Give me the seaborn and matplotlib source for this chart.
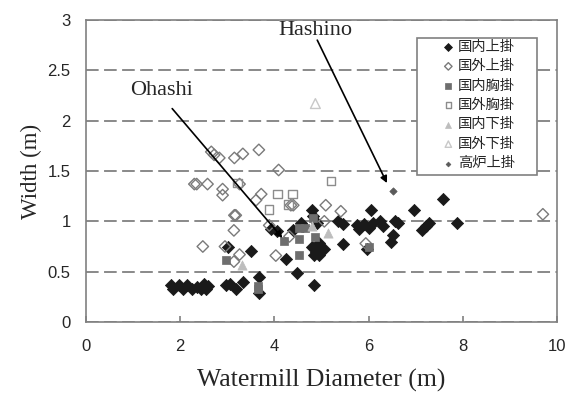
import matplotlib
matplotlib.use("Agg")
import matplotlib.pyplot as plt
from matplotlib.patches import Rectangle
import seaborn as sns
import pandas as pd

# ---- data ----
dom_over_x = [1.80, 1.85, 1.98, 2.05, 2.15, 2.25, 2.35, 2.45, 2.50, 2.55, 2.60,
              2.97, 3.05, 3.19, 3.33, 3.68, 3.68,
              3.01, 3.50, 3.93, 4.05, 4.25, 4.49, 4.85,
              4.39, 4.56, 4.60, 4.80, 4.83, 4.90,
              4.80, 4.88, 4.95, 5.00, 4.85, 4.95, 5.05, 4.90,
              5.34, 5.45, 5.45, 5.75, 5.80, 5.90, 6.00, 6.05, 6.10, 6.25, 6.30,
              6.55, 6.62, 6.47, 6.52, 5.97,
              6.96, 7.14, 7.22, 7.28, 7.57, 7.88]
dom_over_y = [0.37, 0.33, 0.37, 0.33, 0.37, 0.33, 0.35, 0.33, 0.38, 0.33, 0.36,
              0.37, 0.38, 0.33, 0.40, 0.45, 0.29,
              0.75, 0.71, 0.92, 0.90, 0.63, 0.49, 0.37,
              0.91, 0.98, 0.95, 1.11, 1.05, 0.98,
              0.75, 0.70, 0.78, 0.72, 0.67, 0.67, 0.73, 0.74,
              1.00, 0.97, 0.77, 0.96, 0.92, 0.97, 0.93, 1.11, 0.98, 1.00, 0.95,
              1.00, 0.98, 0.79, 0.86, 0.73,
              1.11, 0.91, 0.95, 0.98, 1.22, 0.98]

for_over_x = [2.30, 2.35, 2.58, 2.66, 2.72, 2.83, 2.90, 2.90, 3.15, 3.33, 3.26,
              3.67, 3.72, 3.61, 4.09, 3.15, 3.18, 3.14, 2.48, 3.26, 3.14, 4.03,
              3.89, 4.35, 4.40, 5.09, 5.41, 5.06, 5.94, 9.70, 4.32, 2.95]
for_over_y = [1.37, 1.37, 1.37, 1.69, 1.66, 1.63, 1.32, 1.26, 1.63, 1.67, 1.37,
              1.71, 1.27, 1.21, 1.51, 1.06, 1.06, 0.91, 0.75, 0.67, 0.60, 0.66,
              0.96, 1.16, 1.16, 1.16, 1.10, 1.00, 0.78, 1.07, 0.85, 0.75]

dom_breast_x = [2.97, 3.65, 3.65, 4.21, 4.53, 4.53, 4.65, 4.53, 4.82, 4.86, 6.00]
dom_breast_y = [0.62, 0.36, 0.33, 0.80, 0.82, 0.93, 0.93, 0.67, 1.03, 0.84, 0.75]

for_breast_x = [3.22, 3.89, 4.07, 4.39, 4.30, 5.20]
for_breast_y = [1.38, 1.12, 1.27, 1.27, 1.17, 1.40]

dom_under_x = [3.31, 4.79, 5.13]
dom_under_y = [0.57, 0.95, 0.88]

for_under_x = [4.87]
for_under_y = [2.17]

furnace_x = [6.51]
furnace_y = [1.30]

categories = ["国内上掛", "国外上掛", "国内胸掛", "国外胸掛", "国内下掛", "国外下掛", "高炉上掛"]
xs = [dom_over_x, for_over_x, dom_breast_x, for_breast_x, dom_under_x, for_under_x, furnace_x]
ys = [dom_over_y, for_over_y, dom_breast_y, for_breast_y, dom_under_y, for_under_y, furnace_y]

x_ticks = [0, 2, 4, 6, 8, 10]
y_ticks = [0, 0.5, 1, 1.5, 2, 2.5, 3]
y_tick_labels = ["0", "0.5", "1", "1.5", "2", "2.5", "3"]

# annotation: label, text position, arrow start, arrow tip (data units)
notes = [("Hashino", (4.87, 2.90), (4.91, 2.80), (6.39, 1.38)),
         ("Ohashi", (1.60, 2.30), (1.83, 2.12), (4.17, 0.835))]

# ---- styles ----
styles = {
    "国内上掛": dict(marker="D", s=38, facecolor="#1a1a1a", edgecolor="#1a1a1a", linewidth=0.6),
    "国外上掛": dict(marker="D", s=34, facecolor="none", edgecolor="#7a7a7a", linewidth=1.0),
    "国内胸掛": dict(marker="s", s=32, facecolor="#6e6e6e", edgecolor="#6e6e6e", linewidth=0.5),
    "国外胸掛": dict(marker="s", s=38, facecolor="none", edgecolor="#8c8c8c", linewidth=1.0),
    "国内下掛": dict(marker="^", s=44, facecolor="#bdbdbd", edgecolor="#bdbdbd", linewidth=0.5),
    "国外下掛": dict(marker="^", s=50, facecolor="none", edgecolor="#c8c8c8", linewidth=1.0),
    "高炉上掛": dict(marker="D", s=14, facecolor="#5a5a5a", edgecolor="#5a5a5a", linewidth=0.5),
}

sns.set_style("white")
plt.rcParams["font.family"] = ["Liberation Sans", "Noto Sans CJK JP", "DejaVu Sans"]

fig = plt.figure(figsize=(5.76, 3.94), dpi=100)
ax = fig.add_axes([86 / 576, 1 - 322 / 394, (557 - 86) / 576, (322 - 20) / 394])

for cat, x, y in zip(categories, xs, ys):
    df = pd.DataFrame({"x": x, "y": y})
    sns.scatterplot(data=df, x="x", y="y", ax=ax, label=cat, zorder=3, **styles[cat])

ax.set_xlim(0, 10)
ax.set_ylim(0, 3)
ax.set_xticks(x_ticks)
ax.set_yticks(y_ticks)
ax.set_yticklabels(y_tick_labels)
ax.tick_params(axis="x", direction="in", length=4, width=1.2, color="#808080",
               labelsize=12, pad=12, bottom=True)
ax.tick_params(axis="y", length=0, labelsize=12, pad=11)

ax.yaxis.grid(True, color="#808080", linewidth=1.3, linestyle=(0, (7, 3)))
ax.xaxis.grid(False)
ax.set_axisbelow(True)
for sp in ax.spines.values():
    sp.set_color("#808080")
    sp.set_linewidth(1.2)
    sp.set_visible(True)

serif = ["Liberation Serif", "DejaVu Serif"]
ax.set_xlabel("Watermill Diameter (m)", fontsize=18.5, family=serif, labelpad=11)
ax.set_ylabel("Width (m)", fontsize=16.5, family=serif, labelpad=4)

for label, tpos, start, tip in notes:
    ax.text(*tpos, label, fontsize=16, family=serif, ha="center", va="center")
    ax.annotate("", xy=tip, xytext=start,
                arrowprops=dict(arrowstyle="-|>", color="black", lw=1.2, shrinkA=0,
                                shrinkB=0, mutation_scale=10))

# legend frame box
ax.add_patch(Rectangle((0.703, 0.487), 0.9575 - 0.703, 0.9404 - 0.487,
                       transform=ax.transAxes, facecolor="white", edgecolor="#808080",
                       linewidth=1.2, zorder=4))
leg = ax.legend(loc="upper left", bbox_to_anchor=(0.745, 0.949), frameon=False,
                borderaxespad=0, handletextpad=0.15, handlelength=1.0,
                labelspacing=0.38, borderpad=0.3, markerscale=0.65,
                prop={"family": ["Noto Sans CJK JP", "DejaVu Sans"], "size": 10.3})
leg.set_zorder(5)

fig.savefig("out.png", dpi=100)
